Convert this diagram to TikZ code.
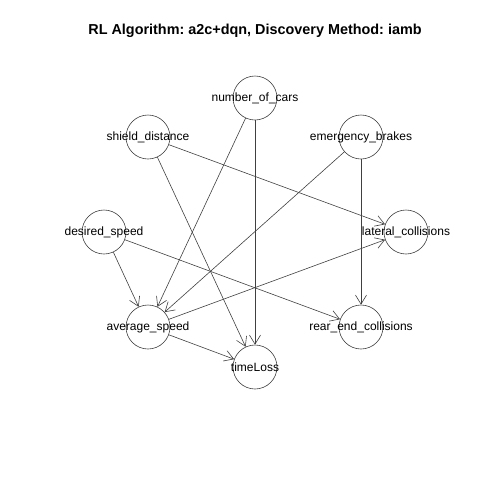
\documentclass[tikz,border=0pt]{standalone}
\usepackage{fontspec}
\setmainfont{Liberation Sans}
\usetikzlibrary{arrows.meta}
\frenchspacing
\begin{document}
\begin{tikzpicture}[x=1pt,y=-1pt,
  vert/.style={circle,draw=black!75,line width=0.6pt,minimum size=44pt,inner sep=0pt},
  lbl/.style={font=\fontsize{12}{14}\selectfont,inner sep=0pt},
  edge/.style={draw=black!75,line width=0.6pt,-{Straight Barb[length=9pt,width=11pt,line width=0.6pt]}}]
\useasboundingbox (0,0) rectangle (480,480);
\node[font=\bfseries\fontsize{14.4}{16}\selectfont] (title) at (255,31) {\frenchspacing RL Algorithm: a2c+dqn, Discovery Method: iamb};
\node[vert] (nc) at (255,98) {};
\node[vert] (sd) at (148,137) {};
\node[vert] (eb) at (361,137) {};
\node[vert] (ds) at (104,232) {};
\node[vert] (lc) at (406,232) {};
\node[vert] (as) at (148,327) {};
\node[vert] (rc) at (361,327) {};
\node[vert] (tl) at (255,367) {};
\node[lbl] (ncl) at (nc) {number\_of\_cars};
\node[lbl] (sdl) at (sd) {shield\_distance};
\node[lbl] (ebl) at (eb) {emergency\_brakes};
\node[lbl] (dsl) at (ds) {desired\_speed};
\node[lbl] (lcl) at (lc) {lateral\_collisions};
\node[lbl] (asl) at (as) {average\_speed};
\node[lbl] (rcl) at (rc) {rear\_end\_collisions};
\node[lbl] (tll) at (tl) {timeLoss};
\draw[edge] (nc) -- (as);
\draw[edge] (nc) -- (tl);
\draw[edge] (sd) -- (tl);
\draw[edge] (sd) -- (lc);
\draw[edge] (eb) -- (as);
\draw[edge] (eb) -- (rc);
\draw[edge] (ds) -- (as);
\draw[edge] (ds) -- (rc);
\draw[edge] (as) -- (lc);
\draw[edge] (as) -- (tl);
\end{tikzpicture}
\end{document}
